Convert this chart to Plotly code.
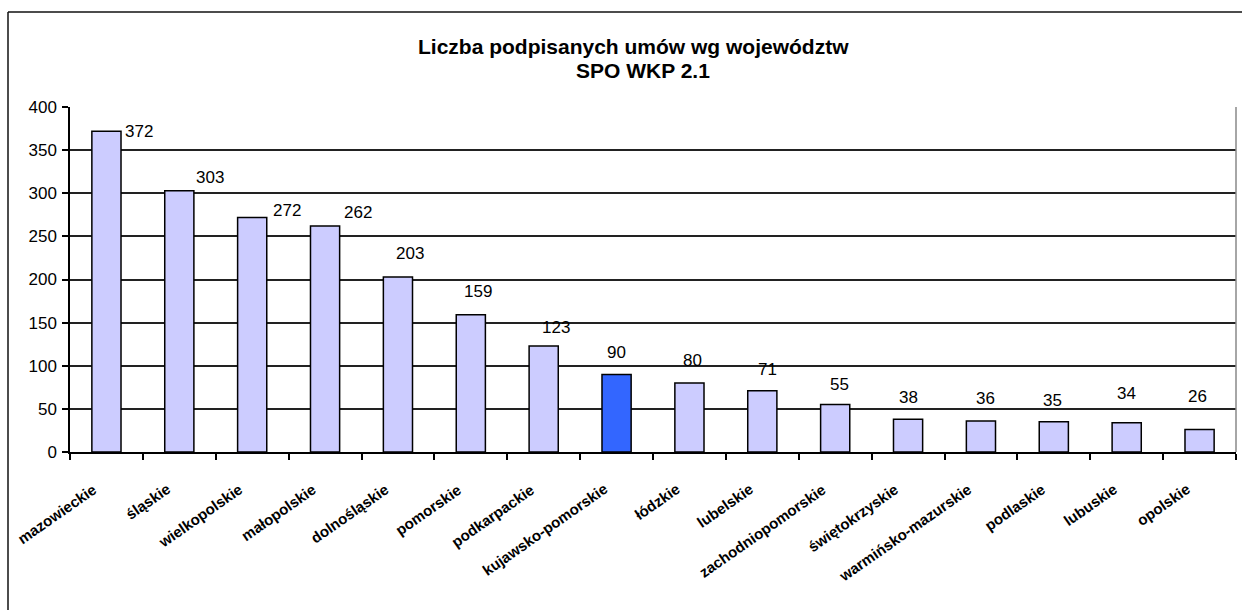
import plotly.graph_objects as go

categories = ["mazowieckie", "śląskie", "wielkopolskie", "małopolskie", "dolnośląskie",
              "pomorskie", "podkarpackie", "kujawsko-pomorskie", "łódzkie", "lubelskie",
              "zachodniopomorskie", "świętokrzyskie", "warmińsko-mazurskie", "podlaskie",
              "lubuskie", "opolskie"]
values = [372, 303, 272, 262, 203, 159, 123, 90, 80, 71, 55, 38, 36, 35, 34, 26]
highlight = "kujawsko-pomorskie"
title_lines = ["Liczba podpisanych umów wg województw", "SPO WKP 2.1"]
y_ticks = [0, 50, 100, 150, 200, 250, 300, 350, 400]

# label offsets (pixels) relative to bar top, as placed in the original chart
label_dx = [33, 31, 35, 33, 12, 7, 12, 0, 3, 5, 4, 0, 5, -1, 0, -2]
label_dy = [0, 13, 7, 14, 23, 23, 18, 22, 23, 21, 20, 22, 22, 21, 29, 33]

W, H = 1242, 610
ML, MR, MT, MB = 70, 6, 107, 158
PW, PH = W - ML - MR, H - MT - MB

FONT = "Liberation Sans, Arial, sans-serif"

colors = ["#3366FF" if c == highlight else "#CCCCFF" for c in categories]

fig = go.Figure()
fig.add_trace(go.Bar(
    x=categories, y=values,
    marker=dict(color=colors, line=dict(color="#000000", width=1.5)),
    width=0.4, hoverinfo="x+y",
))

for c, v, dx, dy in zip(categories, values, label_dx, label_dy):
    fig.add_annotation(x=c, y=v, text=str(v), showarrow=False,
                       xshift=dx, yshift=dy, yanchor="middle", xanchor="center",
                       font=dict(family=FONT, size=17, color="#000000"))

# rotated category labels
for c in categories:
    fig.add_annotation(x=c, y=0, text="<b>" + c + "</b>", showarrow=False,
                       textangle=-35, xanchor="right", yanchor="top",
                       xshift=-5, yshift=-27, borderpad=0,
                       font=dict(family=FONT, size=15, color="#000000"))

# title lines
fig.add_annotation(xref="paper", yref="paper", x=(633 - ML) / PW, y=(H - MB - 46) / PH,
                   text="<b>" + title_lines[0] + "</b>", showarrow=False,
                   xanchor="center", yanchor="middle",
                   font=dict(family=FONT, size=21, color="#000000"))
fig.add_annotation(xref="paper", yref="paper", x=(643 - ML) / PW, y=(H - MB - 71) / PH,
                   text="<b>" + title_lines[1] + "</b>", showarrow=False,
                   xanchor="center", yanchor="middle",
                   font=dict(family=FONT, size=21, color="#000000"))

# chart-area border (left and top visible)
def px_x(p):
    return (p - ML) / PW

def px_y(p):
    return (H - MB - p) / PH

fig.add_shape(type="line", xref="paper", yref="paper",
              x0=px_x(8), x1=px_x(8), y0=px_y(12), y1=px_y(H + 5),
              line=dict(color="#111111", width=1.5))
fig.add_shape(type="line", xref="paper", yref="paper",
              x0=px_x(8), x1=px_x(W + 5), y0=px_y(12), y1=px_y(12),
              line=dict(color="#111111", width=1.5))
# plot-area right border
fig.add_shape(type="line", xref="paper", yref="paper",
              x0=1, x1=1, y0=0, y1=1,
              line=dict(color="#888888", width=1.5))

fig.update_layout(
    width=W, height=H,
    margin=dict(l=ML, r=MR, t=MT, b=MB),
    paper_bgcolor="white", plot_bgcolor="white",
    showlegend=False,
    bargap=0.6,
)
fig.update_xaxes(
    type="category", range=[-0.5, len(categories) - 0.5], autorange=False,
    tickson="boundaries", ticks="outside", ticklen=6,
    tickcolor="#000000", tickwidth=1.5,
    showline=True, linecolor="#000000", linewidth=1.5,
    showgrid=False, showticklabels=False,
)
fig.update_yaxes(
    range=[0, 400], autorange=False, tickvals=y_ticks, ticks="outside", ticklen=6,
    tickcolor="#000000", tickwidth=1.5,
    showline=True, linecolor="#000000", linewidth=1.5,
    showgrid=True, gridcolor="#222222", gridwidth=2, zeroline=False,
    tickfont=dict(family=FONT, size=17, color="#000000"),
    ticklabelstandoff=2,
)

fig.write_html("out.html", config={"displayModeBar": False},
               post_script="document.body.style.margin='0';document.body.style.overflow='hidden';")
